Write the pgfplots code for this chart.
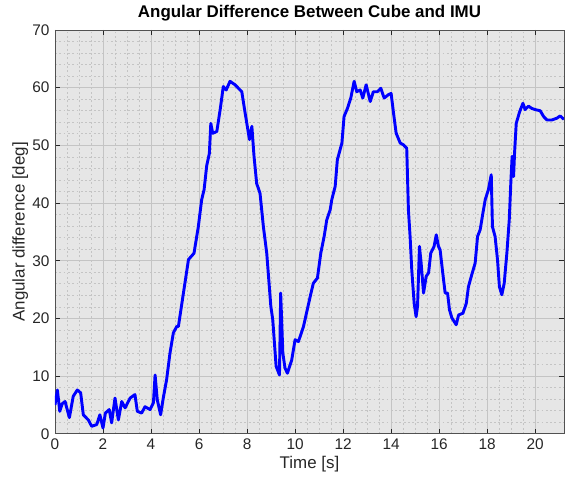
\documentclass[border=0pt]{standalone}
\usepackage{pgfplots}
\pgfplotsset{compat=1.18}
\usepackage{fontspec}
\setmainfont{Liberation Sans}
\definecolor{bgc}{RGB}{230,230,230}
\definecolor{txt}{RGB}{38,38,38}
\definecolor{majg}{RGB}{196,196,196}
\definecolor{ming}{RGB}{196,196,196}
\begin{document}
\begin{tikzpicture}
\begin{axis}[
  at={(0,0)}, anchor=south west,
  scale only axis, width=331pt, height=262.6pt,
  xmin=0, xmax=21.2, ymin=0, ymax=70,
  xtick={0,2,...,20}, ytick={0,10,...,70},
  minor x tick num=3, minor y tick num=4,
  grid=both,
  major grid style={majg, line width=0.5pt},
  minor grid style={ming, dash pattern=on 1.2pt off 1.6pt, line width=0.5pt},
  axis background/.style={fill=bgc},
  axis line style={draw=txt!80, line width=0.5pt},
  tick style={draw=txt, line width=0.5pt},
  major tick length=3pt, minor tick length=0pt,
  tick align=inside,
  /pgf/number format/assume math mode=true,
  ticklabel style={font=\fontsize{10}{12}\selectfont, text=txt},
  title={\textbf{Angular Difference Between Cube and IMU}},
  title style={font=\fontsize{11}{13}\selectfont, text=black, yshift=-4pt},
  xlabel={Time [s]}, ylabel={Angular difference [deg]},
  label style={font=\fontsize{11}{13}\selectfont, text=txt},
  xlabel style={yshift=3pt},
  ylabel style={yshift=-4pt},
]
\addplot[color=blue, line width=1.9pt, line join=round] coordinates {
(0.00,5.0)(0.10,7.6)(0.20,3.9)(0.30,5.2)(0.42,5.6)(0.60,2.8)(0.76,6.5)(0.93,7.6)
(1.07,7.1)(1.18,3.3)(1.39,2.4)(1.53,1.3)(1.74,1.6)(1.87,3.3)(2.00,1.0)(2.10,3.6)
(2.26,4.2)(2.36,1.9)(2.50,6.2)(2.64,2.4)(2.78,5.6)(2.92,4.5)(3.13,6.2)(3.33,6.8)
(3.43,3.9)(3.61,3.6)(3.75,4.7)(3.96,4.2)(4.10,5.4)(4.17,10.2)(4.26,5.9)(4.40,3.3)
(4.51,6.2)(4.65,9.4)(4.79,14.0)(4.93,17.5)(5.07,18.6)(5.14,18.6)(5.35,24.4)(5.56,30.2)
(5.79,31.3)(5.97,35.9)(6.11,40.6)(6.21,42.3)(6.32,46.5)(6.43,48.6)(6.49,53.8)(6.57,52.1)
(6.74,52.4)(6.88,56.2)(7.01,60.2)(7.13,59.6)(7.29,61.1)(7.50,60.5)(7.78,59.3)(7.92,55.6)
(8.10,51.0)(8.20,53.3)(8.29,48.1)(8.40,43.4)(8.54,41.7)(8.68,35.9)(8.82,31.3)(8.99,22.1)
(9.07,19.8)(9.21,11.7)(9.35,10.2)(9.40,24.4)(9.49,14.0)(9.58,11.4)(9.68,10.5)(9.86,12.8)
(10.00,16.3)(10.14,16.0)(10.35,18.6)(10.63,23.8)(10.76,26.1)(10.93,27.0)(11.07,31.3)
(11.21,34.2)(11.32,37.1)(11.46,38.8)(11.53,40.6)(11.67,42.9)(11.76,47.5)(11.95,50.4)
(12.04,55.0)(12.18,56.4)(12.32,58.2)(12.46,61.1)(12.57,59.3)(12.71,59.6)(12.82,58.2)
(12.96,60.5)(13.13,57.6)(13.26,59.3)(13.43,59.3)(13.57,59.9)(13.71,58.2)(13.89,58.8)
(14.00,59.0)(14.10,55.6)(14.21,52.1)(14.38,50.4)(14.51,50.1)(14.65,49.5)(14.72,38.8)
(14.79,34.2)(14.86,28.4)(14.96,22.6)(15.04,20.3)(15.10,22.1)(15.18,32.5)(15.25,29.6)
(15.35,24.4)(15.46,27.3)(15.56,27.9)(15.65,31.3)(15.79,32.5)(15.88,34.5)(15.97,32.5)
(16.04,31.9)(16.15,27.9)(16.25,24.4)(16.35,24.4)(16.43,21.5)(16.53,20.1)(16.71,18.9)
(16.81,20.6)(16.99,20.9)(17.13,22.6)(17.22,25.5)(17.36,27.6)(17.50,29.6)(17.60,34.2)
(17.71,35.4)(17.82,38.2)(17.92,40.6)(18.05,42.3)(18.17,44.9)(18.22,35.9)(18.33,34.2)
(18.43,30.2)(18.51,25.5)(18.61,24.1)(18.71,26.1)(18.82,31.3)(18.92,37.1)(18.99,44.0)
(19.04,48.1)(19.10,44.6)(19.14,48.6)(19.21,53.8)(19.35,55.8)(19.49,57.3)(19.58,56.2)
(19.72,56.8)(19.86,56.4)(20.00,56.2)(20.21,56.0)(20.35,55.0)(20.49,54.4)(20.69,54.4)
(20.90,54.7)(21.04,55.1)(21.20,54.5)
};
\end{axis}
\pgfresetboundingbox
\useasboundingbox (-35.75pt,-35.75pt) rectangle (331.65pt,282.1pt);
\end{tikzpicture}
\end{document}
